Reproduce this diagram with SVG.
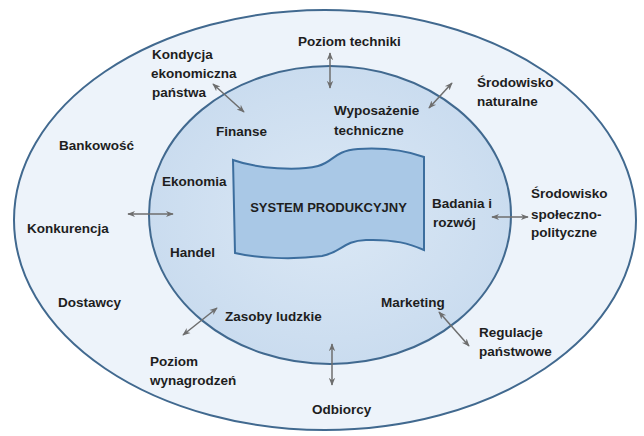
<svg xmlns="http://www.w3.org/2000/svg" width="644" height="436" viewBox="0 0 644 436">
<defs>
<style>
.lbl{font-family:"Liberation Sans",Arial,sans-serif;font-weight:bold;font-size:13.5px;fill:#1e1e1e}
.ring{stroke:#41698f;stroke-width:2}
.conn{stroke:#6e6e6e;stroke-width:1.5;fill:none;marker-start:url(#ah);marker-end:url(#ah)}
</style>
<radialGradient id="gin" cx="0.5" cy="0.5" r="0.5">
<stop offset="0" stop-color="#dbe8f5"/>
<stop offset="1" stop-color="#cadcef"/>
</radialGradient>
<marker id="ah" viewBox="0 0 10 10" refX="9" refY="5" markerWidth="8" markerHeight="8" markerUnits="userSpaceOnUse" orient="auto-start-reverse">
<path d="M0,1 L10,5 L0,9 L3,5 Z" fill="#6e6e6e"/>
</marker>
</defs>
<rect width="644" height="436" fill="#ffffff"/>
<g id="outer-ring">
<ellipse class="ring" cx="325" cy="220" rx="311" ry="210" fill="#edf3fa"/>
</g>
<g id="inner-ring">
<ellipse class="ring" cx="330" cy="215" rx="181" ry="149" fill="url(#gin)"/>
</g>
<g id="system-produkcyjny">
<path d="M233,160 C258,169 298,171 318,166 C334,162 333,151 358,149 C388,147 410,152 424,157 L424,250 C410,244 395,239 366,240 C342,241 343,252 322,256 C292,260 256,258 235,253 Z" fill="#a9c8e6" stroke="#3c6e9e" stroke-width="2"/>
<text class="lbl" x="328.5" y="212" font-size="13" style="font-size:13px" text-anchor="middle">SYSTEM PRODUKCYJNY</text>
</g>
<g id="connectors">
<line class="conn" x1="330" y1="53" x2="330" y2="88"/>
<line class="conn" x1="213" y1="84" x2="244" y2="112"/>
<line class="conn" x1="429" y1="108" x2="452" y2="83"/>
<line class="conn" x1="128" y1="214" x2="173" y2="214"/>
<line class="conn" x1="492" y1="217" x2="528" y2="217"/>
<line class="conn" x1="183" y1="335" x2="217" y2="308"/>
<line class="conn" x1="332" y1="344" x2="332" y2="385"/>
<line class="conn" x1="439" y1="312" x2="469" y2="346"/>
</g>
<g id="poziom-techniki"><text class="lbl" x="298" y="46">Poziom techniki</text></g>
<g id="kondycja"><text class="lbl" x="152" y="59">Kondycja</text><text class="lbl" x="151" y="78">ekonomiczna</text><text class="lbl" x="152" y="97">państwa</text></g>
<g id="srodowisko-naturalne"><text class="lbl" x="477" y="87">Środowisko</text><text class="lbl" x="477" y="106">naturalne</text></g>
<g id="wyposazenie"><text class="lbl" x="334" y="115">Wyposażenie</text><text class="lbl" x="334" y="135">techniczne</text></g>
<g id="finanse"><text class="lbl" x="216" y="136">Finanse</text></g>
<g id="bankowosc"><text class="lbl" x="59" y="150">Bankowość</text></g>
<g id="ekonomia"><text class="lbl" x="162" y="186">Ekonomia</text></g>
<g id="badania"><text class="lbl" x="432" y="208">Badania i</text><text class="lbl" x="433" y="227">rozwój</text></g>
<g id="srodowisko-spoleczno"><text class="lbl" x="531" y="198">Środowisko</text><text class="lbl" x="531" y="219">społeczno-</text><text class="lbl" x="531" y="237">polityczne</text></g>
<g id="konkurencja"><text class="lbl" x="27" y="233">Konkurencja</text></g>
<g id="handel"><text class="lbl" x="170" y="257">Handel</text></g>
<g id="dostawcy"><text class="lbl" x="58" y="307">Dostawcy</text></g>
<g id="marketing"><text class="lbl" x="381" y="307">Marketing</text></g>
<g id="zasoby"><text class="lbl" x="225" y="321">Zasoby ludzkie</text></g>
<g id="regulacje"><text class="lbl" x="479" y="337">Regulacje</text><text class="lbl" x="479" y="356">państwowe</text></g>
<g id="poziom-wynagrodzen"><text class="lbl" x="150" y="366">Poziom</text><text class="lbl" x="150" y="385">wynagrodzeń</text></g>
<g id="odbiorcy"><text class="lbl" x="312" y="414">Odbiorcy</text></g>
</svg>
